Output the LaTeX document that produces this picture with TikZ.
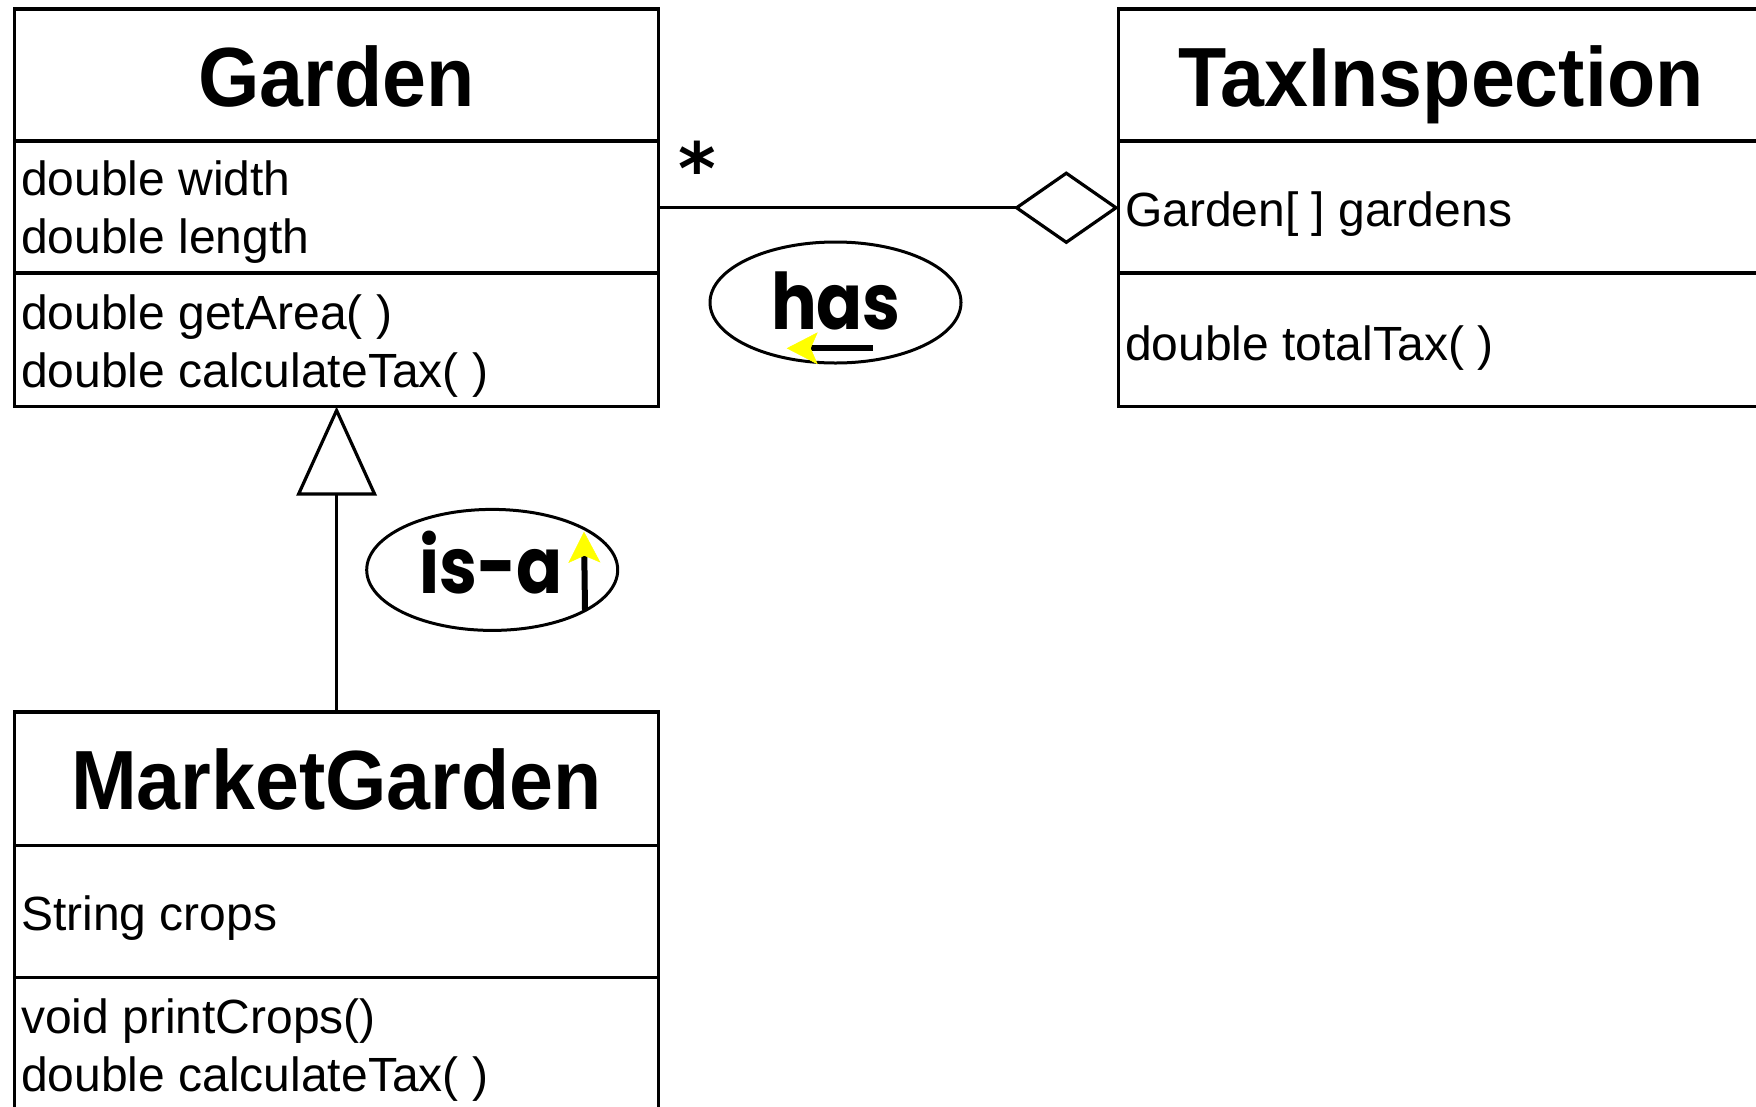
\documentclass[tikz,border=0pt]{standalone}
\usepackage{fontspec}
\setmainfont{Liberation Sans}
\newfontfamily\titlefont[FakeStretch=0.94]{Liberation Sans}
\newfontfamily\handfont[FakeStretch=0.87]{Poppins}
\newfontfamily\starfont{DejaVu Sans}
\usetikzlibrary{arrows.meta,shapes.geometric}
\definecolor{tipyellow}{RGB}{255,255,0}
\begin{document}
\begin{tikzpicture}[x=1pt,y=-1pt,
  umlbox/.style={draw, line width=3.2pt, rectangle, inner sep=0pt, outer sep=0pt, anchor=north west},
  divider/.style={line width=3.2pt},
  classtitle/.style={anchor=base, inner sep=0pt, font=\titlefont\bfseries\fontsize{84}{100}\selectfont},
  memberline/.style={anchor=base west, inner sep=0pt, font=\fontsize{48}{58}\selectfont},
  bubble/.style={draw, ellipse, line width=3pt, minimum width=251pt, minimum height=121pt, inner sep=0pt},
  bubbletext/.style={anchor=base, inner sep=0pt, font=\handfont\bfseries\fontsize{78}{94}\selectfont},
  hintarrow/.style={line width=6pt, -{Stealth[length=31pt, width=32pt, inset=7pt, line width=0.5pt, color=tipyellow]}},
  inheritline/.style={line width=3.2pt, -{Triangle[open, length=89pt, width=80pt]}},
  aggline/.style={line width=3.2pt, -{Diamond[open, length=105pt, width=73pt]}},
]
\useasboundingbox (0,0) rectangle (1756,1106);
\clip (0,0) rectangle (1756,1106);

% class boxes
\node[umlbox, minimum width=644pt, minimum height=397.5pt] (g) at (14.6,9) {};
\node[umlbox, minimum width=644.2pt, minimum height=397.5pt] (ti) at (1118.8,9) {};
\node[umlbox, minimum width=644pt, minimum height=500pt] (mg) at (14.6,712) {};

% dividers
\draw[divider] (14.6,141) -- (658.6,141);
\draw[divider] (14.6,273) -- (658.6,273);
\draw[divider] (1118.8,141) -- (1763,141);
\draw[divider] (1118.8,273) -- (1763,273);
\draw[divider] (14.6,845.6) -- (658.6,845.6);
\draw[divider] (14.6,977.8) -- (658.6,977.8);

% titles
\node[classtitle] (gtitle) at (336.5,106.5) {Garden};
\node[classtitle] (ttitle) at (1441,106.5) {TaxInspection};
\node[classtitle] (mtitle) at (336.5,809.5) {MarketGarden};

% members
\node[memberline] (gw) at (21,195.5) {double width};
\node[memberline] (gl) at (21,253.5) {double length};
\node[memberline] (ga) at (21,329.5) {double getArea( )};
\node[memberline] (gc) at (21,387) {double calculateTax( )};
\node[memberline] (tg) at (1125,226) {Garden[ ] gardens};
\node[memberline] (tt) at (1125,360) {double totalTax( )};
\node[memberline] (ms) at (21,930) {String crops};
\node[memberline] (mp) at (21,1033.5) {void printCrops()};
\node[memberline] (mc) at (21,1091.5) {double calculateTax( )};

% relations
\draw[inheritline] (mg.north) -- (g.south);
\draw[aggline] (g.east) -- (ti.west);
\node[anchor=base, inner sep=0pt, font=\starfont\bfseries\fontsize{72}{86}\selectfont] (mult) at (697,194) {*};

% bubbles
\node[bubble] (hasbubble) at (835.5,302.5) {};
\node[bubbletext] (hasword) at (836,329) {has};
\coordinate (hasbase) at (873,348.3);
\coordinate (hastip) at (786.7,348.3);
\draw[hintarrow] (hasbase) -- (hastip);

\node[bubble] (isabubble) at (492.2,569.9) {};
\node[bubbletext] (isaword) at (491,593.5) {is-a};
\coordinate (isabase) at (585,610);
\coordinate (isatip) at (584,531.7);
\draw[hintarrow] (isabase) -- (isatip);
\end{tikzpicture}
\end{document}
